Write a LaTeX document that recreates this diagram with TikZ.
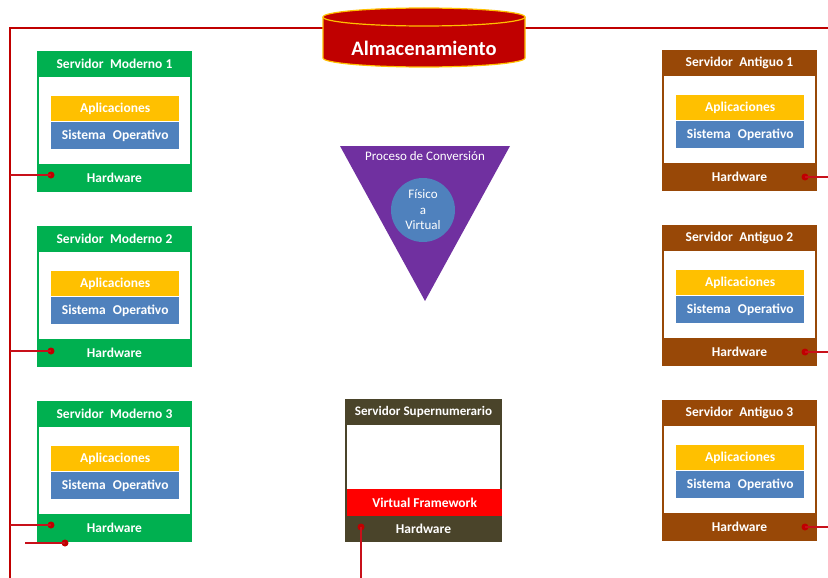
\documentclass[tikz,border=0pt]{standalone}
\usepackage{fontspec}
\setmainfont{Carlito}
\definecolor{netred}{HTML}{C00000}
\definecolor{linkred}{HTML}{C8101A}
\definecolor{modgreen}{HTML}{00B050}
\definecolor{oldbrown}{HTML}{984807}
\definecolor{appyellow}{HTML}{FFC000}
\definecolor{osblue}{HTML}{4F81BD}
\definecolor{spareolive}{HTML}{4A442A}
\definecolor{fwred}{HTML}{FF0000}
\definecolor{convpurple}{HTML}{7030A0}

\tikzset{
  lbl/.style={text=white, inner sep=0pt, font=\bfseries\fontsize{13.5}{15}\selectfont},
  panel/.style={inner sep=0pt, anchor=north west},
  layer/.style={panel, text=white, font=\bfseries\fontsize{13.5}{15}\selectfont},
  port/.style={circle, fill=netred, inner sep=0pt, minimum size=7pt},
  bus/.style={draw=netred, line width=1.6pt},
  link/.style={draw=linkred, line width=1.1pt},
}

% one server: name, left x, top y, frame colour, title
\newcommand\serverbox[5]{%
  \node[panel, fill=#4, minimum width=155pt, minimum height=141pt] (#1) at (#2,#3) {};
  \node[panel, fill=white, minimum width=151pt, minimum height=87pt] (#1-body) at (#2+2,#3+26) {};
  \node[layer, fill=appyellow, minimum width=128pt, minimum height=25pt] (#1-app) at (#2+14,#3+45) {Aplicaciones};
  \node[layer, fill=osblue, minimum width=128pt, minimum height=27pt] (#1-os) at (#2+14,#3+71) {Sistema\hspace{0.3em} Operativo};
  \node[lbl] (#1-title) at (#2+77.5,#3+13) {#5};
  \node[lbl] (#1-hw) at (#2+77.5,#3+127) {Hardware};
}

\begin{document}
\begin{tikzpicture}[x=1pt,y=-1pt]
\useasboundingbox (0,0) rectangle (828,578);

% storage network bus
\coordinate (busTL) at (10,28);
\coordinate (busBL) at (10,578);
\coordinate (busTR) at (828,28);
\draw[bus] (busBL) -- (busTL) -- (busTR);

% storage cylinder
\fill[netred] (323,17) -- (323,58) arc[start angle=180, end angle=360, x radius=101pt, y radius=9pt]
  -- (525,17) arc[start angle=0, end angle=180, x radius=101pt, y radius=9pt] -- cycle;
\draw[appyellow, line width=1.2pt] (323,17) -- (323,58) arc[start angle=180, end angle=360, x radius=101pt, y radius=9pt] -- (525,17);
\draw[appyellow, line width=1.2pt] (424,17) ellipse[x radius=101pt, y radius=9pt];
\node[lbl, font=\bfseries\fontsize{20.5}{22}\selectfont] (storage) at (424,48) {Almacenamiento};

% modern servers
\serverbox{m1}{37}{51}{modgreen}{Servidor\hspace{0.25em} Moderno 1}
\serverbox{m2}{37}{226}{modgreen}{Servidor\hspace{0.25em} Moderno 2}
\serverbox{m3}{37}{401}{modgreen}{Servidor\hspace{0.25em} Moderno 3}

% legacy servers
\serverbox{a1}{662}{50}{oldbrown}{Servidor\hspace{0.25em} Antiguo 1}
\serverbox{a2}{662}{225}{oldbrown}{Servidor\hspace{0.25em} Antiguo 2}
\serverbox{a3}{662}{400}{oldbrown}{Servidor\hspace{0.25em} Antiguo 3}

% spare server
\node[panel, fill=spareolive, minimum width=157pt, minimum height=143pt] (sp) at (345,399) {};
\node[panel, fill=white, minimum width=153pt, minimum height=64pt] (sp-body) at (347,425) {};
\node[layer, fill=fwred, minimum width=155pt, minimum height=27pt] (sp-fw) at (347,489) {Virtual Framework};
\node[lbl, font=\bfseries\fontsize{13.1}{14}\selectfont] (sp-title) at (423.5,412) {Servidor Supernumerario};
\node[lbl] (sp-hw) at (423.5,529) {Hardware};

% conversion process
\fill[convpurple] (340,146) -- (510,146) -- (425,301) -- cycle;
\node[text=white, inner sep=0pt, font=\fontsize{13}{15}\selectfont] (conv) at (425,156) {Proceso de Conversión};
\node[circle, fill=osblue, minimum size=64pt, inner sep=0pt, text=white, align=center,
      font=\fontsize{13}{15.5}\selectfont] (p2v) at (423,210) {Físico\\a\\Virtual};

% ports
\node[port] (m1-port) at (51,175) {};
\node[port] (m2-port) at (51,351) {};
\node[port] (m3-port) at (51,525) {};
\node[port] (m3-port2) at (65,543) {};
\node[port] (a1-port) at (805,177) {};
\node[port] (a2-port) at (805,352) {};
\node[port] (a3-port) at (805,527) {};
\node[port] (sp-port) at (361,527) {};
\coordinate (m3-tail) at (25,543);

% links to the bus
\draw[link] (m1-port.center) -- (m1-port.center -| busTL);
\draw[link] (m2-port.center) -- (m2-port.center -| busTL);
\draw[link] (m3-port.center) -- (m3-port.center -| busTL);
\draw[link] (m3-tail) -- (m3-port2.center);
\draw[link] (a1-port.center) -- (a1-port.center -| busTR);
\draw[link] (a2-port.center) -- (a2-port.center -| busTR);
\draw[link] (a3-port.center) -- (a3-port.center -| busTR);
\draw[link] (sp-port.center) -- (sp-port.center |- busBL);
\end{tikzpicture}
\end{document}
